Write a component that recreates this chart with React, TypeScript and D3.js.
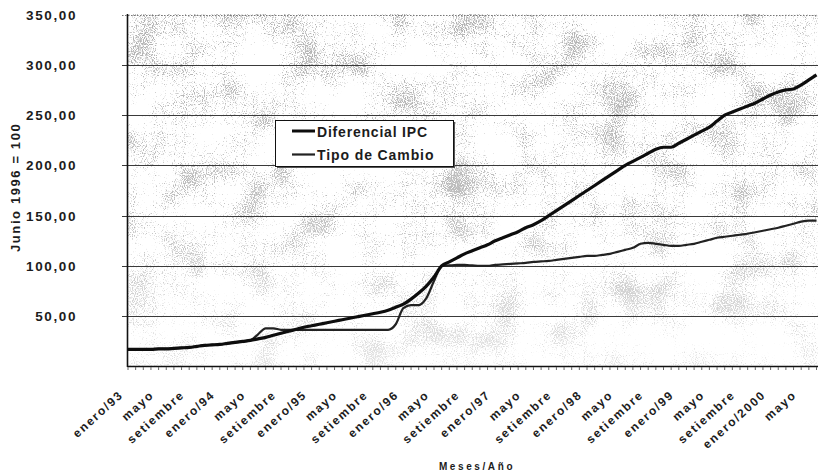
import React from "react";
import * as d3 from "d3";

const tickLabels = [
  "enero/93", "mayo", "setiembre",
  "enero/94", "mayo", "setiembre",
  "enero/95", "mayo", "setiembre",
  "enero/96", "mayo", "setiembre",
  "enero/97", "mayo", "setiembre",
  "enero/98", "mayo", "setiembre",
  "enero/99", "mayo", "setiembre",
  "enero/2000", "mayo",
];

// monthly values, enero/93 .. julio/2000 (index = months since enero/93)
const diferencialIPC = [
  17, 17, 17, 17, 17.5, 17.5, 18, 18.5, 19, 20, 21, 21.5, 22, 23, 24, 25, 26,
  27.5, 29, 31, 33, 35, 37, 39, 40.5, 42, 43.5, 45, 46.5, 48, 49.5, 51, 52.5, 54, 56, 59, 62, 67, 73, 80, 89,
  100, 104, 108, 112, 115, 118, 121, 125, 128, 131,
  134, 138, 141, 145, 150, 155, 160, 165, 170, 175,
  180, 185, 190, 195, 200, 204, 208, 212, 216, 218,
  218, 222, 226, 230, 234, 238, 244, 250, 253, 256,
  259, 262, 266, 270, 273, 275, 276, 280, 285, 290,
];

const tipoDeCambio = [
  17, 17, 17, 17, 17.5, 17.5, 18, 18.5, 19, 20, 21, 21.5, 22, 23, 24, 25, 26,
  32, 38, 38, 36.5, 36.5, 36.5, 36.5, 36.5, 36.5, 36.5, 36.5, 36.5, 36.5, 36.5, 36.5, 36.5, 36.5, 36.5,
  42, 58, 61, 61, 68, 85,
  100, 100.5, 101, 101, 100.5, 100, 100, 101, 101.5, 102,
  102.5, 103, 104, 104.5, 105, 106, 107, 108, 109, 110,
  110, 111, 112, 114, 116, 118, 122, 123, 122, 121,
  120, 120, 121, 122, 124, 126, 128, 129, 130, 131,
  132, 133.5, 135, 136.5, 138, 140, 142, 144, 145, 145,
];

const yTicks = [0, 50, 100, 150, 200, 250, 300, 350];
const seriesNames = ["Diferencial IPC", "Tipo de Cambio"];
const yTitle = "Junio 1996 = 100";
const xTitle = "Meses/Año";

const W = 818;
const H = 474;
const font = "'Liberation Sans', Arial, sans-serif";
const ink = "#1c1c1c";

export default function App() {
  const left = 127.5;
  const x = d3.scaleLinear().domain([0, 90]).range([128, 816.5]);
  const y = d3.scaleLinear().domain([0, 350]).range([366.5, 14.5]);
  const line = d3
    .line<number>()
    .x((_, i) => x(i))
    .y((d) => y(d))
    .curve(d3.curveMonotoneX);
  const months = d3.range(diferencialIPC.length);
  const fmt = (v: number) => d3.format(".2f")(v).replace(".", ",");

  return (
    <svg
      width={W}
      height={H}
      style={{ position: "absolute", left: 0, top: 0, background: "#fff" }}
      fontFamily={font}
    >
      <defs>
        <filter id="speckle" x="0" y="0" width="100%" height="100%" colorInterpolationFilters="sRGB">
          <feTurbulence type="fractalNoise" baseFrequency="0.025" numOctaves="2" seed="11" result="lowRaw" />
          <feColorMatrix in="lowRaw" type="matrix" values="1 0 0 0 0  1 0 0 0 0  1 0 0 0 0  0 0 0 0 1" result="low" />
          <feTurbulence type="fractalNoise" baseFrequency="0.9" numOctaves="1" seed="3" result="highRaw" />
          <feColorMatrix in="highRaw" type="matrix" values="1 0 0 0 0  1 0 0 0 0  1 0 0 0 0  0 0 0 0 1" result="high" />
          <feComposite in="low" in2="high" operator="arithmetic" k1="0" k2="0.4" k3="0.6" k4="0" result="mix" />
          <feColorMatrix in="mix" type="matrix" values="0 0 0 0 0.4  0 0 0 0 0.4  0 0 0 0 0.4  10 0 0 0 -5.5" />
        </filter>
        <linearGradient id="fade" x1="0" y1="0" x2="0" y2="1">
          <stop offset="0" stopColor="#fff" stopOpacity={1} />
          <stop offset="0.55" stopColor="#fff" stopOpacity={0.85} />
          <stop offset="1" stopColor="#fff" stopOpacity={0.35} />
        </linearGradient>
        <mask id="fadeMask">
          <rect x={0} y={14} width={W} height={352} fill="url(#fade)" />
        </mask>
        <clipPath id="ytclip">
          <rect x={0} y={121} width={60} height={200} />
        </clipPath>
      </defs>

      {/* textured plot background */}
      <g mask="url(#fadeMask)">
        <rect x={left} y={14} width={W - left} height={352} fill="#fff" filter="url(#speckle)" opacity={0.5} />
      </g>

      {/* gridlines */}
      {yTicks.slice(1).map((t) => (
        <line
          key={t}
          x1={122}
          x2={W}
          y1={Math.round(y(t)) + 0.5}
          y2={Math.round(y(t)) + 0.5}
          stroke={t === 350 ? "#777" : "#3a3a3a"}
          strokeWidth={t === 350 ? 1.2 : 1}
          strokeDasharray={t === 350 ? "1.5 1.5" : undefined}
        />
      ))}

      {/* axes */}
      <line x1={left} x2={left} y1={14} y2={367} stroke="#111" strokeWidth={1.6} />
      <line x1={left} x2={W} y1={366.5} y2={366.5} stroke="#111" strokeWidth={1.6} />
      {months.map((m) => (
        <line key={m} x1={x(m)} x2={x(m)} y1={367} y2={370} stroke="#666" strokeWidth={1} />
      ))}

      {/* y tick labels */}
      {yTicks.slice(1).map((t) => (
        <text
          key={t}
          x={77}
          y={y(t) + 5}
          textAnchor="end"
          fontSize={13.5}
          fontWeight="bold"
          letterSpacing={1.6}
          fill={ink}
        >
          {fmt(t)}
        </text>
      ))}

      {/* x tick labels */}
      {tickLabels.map((lab, i) => {
        const px = x(i * 4) - 4;
        const py = 396;
        return (
          <text
            key={i}
            transform={`translate(${px},${py}) rotate(-42)`}
            textAnchor="end"
            fontSize={12}
            fontWeight="bold"
            letterSpacing={1.7}
            fill={ink}
          >
            {lab}
          </text>
        );
      })}

      {/* lines */}
      <path d={line(tipoDeCambio) || ""} fill="none" stroke="#222" strokeWidth={2.2} strokeLinejoin="round" />
      <path d={line(diferencialIPC) || ""} fill="none" stroke="#0d0d0d" strokeWidth={3.2} strokeLinejoin="round" />

      {/* legend */}
      <rect x={277} y={122} width={178} height={46} fill="#555" />
      <rect x={275.5} y={120.5} width={178} height={46} fill="#fff" stroke="#111" strokeWidth={1} />
      <line x1={292} x2={315} y1={131} y2={131} stroke="#0d0d0d" strokeWidth={3} />
      <line x1={292} x2={315} y1={154.5} y2={154.5} stroke="#222" strokeWidth={2.2} />
      <text x={317} y={137} fontSize={14} fontWeight="bold" letterSpacing={0.8} fill={ink}>
        {seriesNames[0]}
      </text>
      <text x={317} y={160} fontSize={14} fontWeight="bold" letterSpacing={0.9} fill={ink}>
        {seriesNames[1]}
      </text>

      {/* axis titles */}
      <g clipPath="url(#ytclip)">
        <text
          transform="translate(20,252) rotate(-90)"
          fontSize={13}
          fontWeight="bold"
          letterSpacing={1.6}
          fill={ink}
        >
          {yTitle}
        </text>
      </g>
      <text x={477} y={470} textAnchor="middle" fontSize={10} fontWeight="bold" letterSpacing={2.6} fill={ink}>
        {xTitle}
      </text>
    </svg>
  );
}
